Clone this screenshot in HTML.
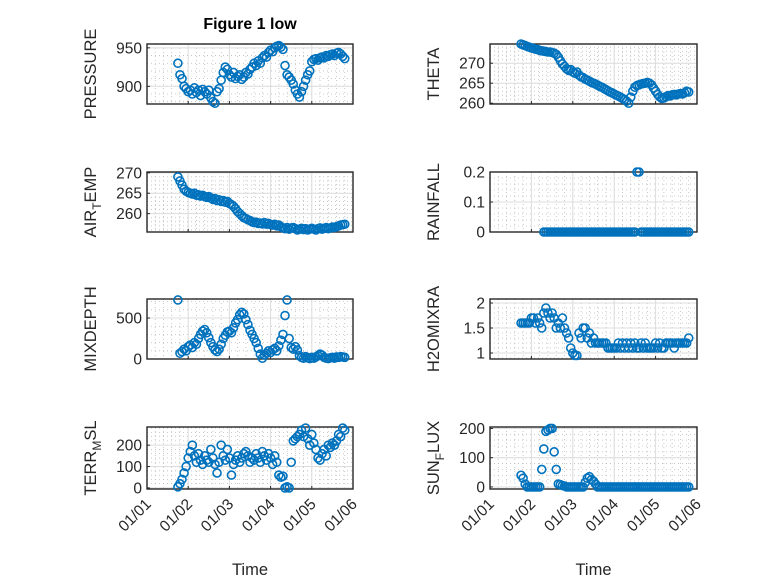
<!DOCTYPE html>
<html><head><meta charset="utf-8"><style>
html,body{margin:0;padding:0;background:#fff;}
svg{display:block;font-family:"Liberation Sans",sans-serif;}
</style></head><body>
<svg id="fig" width="778" height="583" viewBox="0 0 778 583">
<rect width="778" height="583" fill="#fff"/>
<text x="250" y="29" text-anchor="middle" font-weight="bold" font-size="16" fill="#000">Figure 1 low</text>
</svg>
<script>
const days = [];
for (let k = 0; k < 82; k++) days.push(+(0.75 + 0.05 * k).toFixed(2));
const xTickLabels = ["01/01","01/02","01/03","01/04","01/05","01/06"];
const pressure = [930,915,910,900,897,893,895,890,898,892,895,888,896,893,890,895,885,880,878,893,897,908,918,925,922,915,912,918,910,913,915,909,912,918,916,922,925,930,927,933,930,937,940,938,944,947,945,950,952,953,951,948,927,915,912,908,903,895,890,886,893,900,908,915,920,932,935,936,934,937,938,937,940,939,941,942,940,943,944,942,939,936];
const theta = [274.8,274.6,274.4,274.2,274.0,273.8,273.7,273.5,273.4,273.2,273.1,273.0,272.9,272.8,272.8,272.7,272.5,272.2,271.5,270.6,269.8,269.2,268.6,268.2,268.4,267.8,267.5,267.8,267.0,266.6,266.4,266.0,265.8,265.5,265.2,265.0,264.8,264.5,264.2,264.0,263.7,263.4,263.1,262.8,262.6,262.3,262.0,261.8,261.5,261.2,260.9,260.5,260.0,261.5,263.0,264.0,264.4,264.6,264.8,264.9,265.0,265.2,265.0,264.6,263.8,263.0,262.2,261.6,261.2,261.3,261.6,261.9,261.8,262.1,262.2,262.1,262.3,262.4,262.3,262.6,263.0,262.8];
const airTemp = [269,268,267,266,265.5,265.2,265,264.8,265,264.5,264.6,264.3,264.5,264.2,264.0,264.2,263.8,263.5,263.7,263.2,263.4,263.0,263.2,262.8,263.0,262.5,262.2,261.8,261.2,260.5,260.0,259.5,259.0,258.8,258.5,258.3,258.0,257.8,257.9,257.6,257.7,257.5,257.8,257.4,257.6,257.3,257.2,257.4,257.0,257.2,256.8,256.5,256.3,256.6,256.2,256.5,256.6,256.3,256.0,256.2,256.4,256.1,256.3,256.0,256.2,256.4,256.2,256.0,256.3,256.5,256.2,256.4,256.6,256.3,256.5,256.7,256.6,256.8,257.0,257.2,257.3,257.4];
const rainfall = [null,null,null,null,null,null,null,null,null,null,null,0,0,0,0,0,0,0,0,0,0,0,0,0,0,0,0,0,0,0,0,0,0,0,0,0,0,0,0,0,0,0,0,0,0,0,0,0,0,0,0,0,0,0,0,0,0.2,0.2,0,0,0,0,0,0,0,0,0,0,0,0,0,0,0,0,0,0,0,0,0,0,0,0];
const mixDepth = [720,70,90,120,100,150,170,140,200,180,250,300,340,360,320,260,200,150,110,90,120,180,250,290,330,340,320,380,440,480,540,570,550,480,420,350,300,250,200,130,60,10,50,70,100,80,110,130,100,160,230,300,530,720,250,140,120,150,110,40,20,10,30,15,5,20,10,25,40,60,45,20,10,5,15,20,10,25,20,30,25,20];
const h2oMixRa = [1.6,1.6,1.6,1.6,1.6,1.7,1.7,1.6,1.7,1.6,1.5,1.8,1.9,1.8,1.7,1.8,1.7,1.5,1.6,1.5,1.7,1.5,1.4,1.3,1.1,1.0,0.95,0.95,1.4,1.3,1.5,1.5,1.3,1.4,1.2,1.3,1.2,1.2,1.2,1.2,1.2,1.2,1.1,1.1,1.1,1.1,1.1,1.2,1.1,1.2,1.1,1.2,1.1,1.2,1.1,1.2,1.1,1.1,1.2,1.1,1.2,1.1,1.1,1.1,1.1,1.2,1.1,1.2,1.1,1.1,1.2,1.2,1.2,1.2,1.1,1.2,1.2,1.2,1.2,1.2,1.2,1.3];
const terrMsl = [5,20,40,70,100,140,170,200,150,120,160,130,110,150,130,120,180,140,110,70,120,200,150,130,180,140,60,110,130,150,120,140,160,170,150,120,140,130,160,140,120,170,150,130,160,140,110,150,120,60,50,55,0,5,0,120,220,230,240,250,270,240,280,230,200,250,210,180,140,130,160,180,150,200,190,210,200,220,250,240,280,270];
const sunFlux = [40,30,10,0,0,0,0,0,0,0,60,130,190,195,200,200,120,60,10,8,5,3,0,0,0,0,0,0,0,0,0,15,30,35,25,20,10,0,0,0,0,0,0,0,0,0,0,0,0,0,0,0,0,0,0,0,0,0,0,0,0,0,0,0,0,0,0,0,0,0,0,0,0,0,0,0,0,0,0,0,0,0];

const NS = "http://www.w3.org/2000/svg";
const svg = document.getElementById("fig");
function mk(tag, attrs, parent) {
  const e = document.createElementNS(NS, tag);
  for (const k in attrs) e.setAttribute(k, attrs[k]);
  (parent || svg).appendChild(e);
  return e;
}
const panels = [
  {id:"pressure", data:pressure, x0:147, w:206, y0:44, h:60, ymin:877, ymax:955, ticks:[900,950], label:["PRESSURE"]},
  {id:"theta", data:theta, x0:490, w:207, y0:44, h:60, ymin:259.8, ymax:274.8, ticks:[260,265,270], label:["THETA"]},
  {id:"air-temp", data:airTemp, x0:147, w:206, y0:172, h:60, ymin:255.5, ymax:270.2, ticks:[260,265,270], label:["AIR","T","EMP"]},
  {id:"rainfall", data:rainfall, x0:490, w:207, y0:172, h:60, ymin:0, ymax:0.2, ticks:[0,0.1,0.2], label:["RAINFALL"]},
  {id:"mixdepth", data:mixDepth, x0:147, w:206, y0:299, h:60, ymin:0, ymax:732, ticks:[0,500], label:["MIXDEPTH"]},
  {id:"h2omixra", data:h2oMixRa, x0:490, w:207, y0:299, h:60, ymin:0.88, ymax:2.08, ticks:[1,1.5,2], label:["H2OMIXRA"]},
  {id:"terr-msl", data:terrMsl, x0:147, w:206, y0:427, h:62, ymin:-5, ymax:285, ticks:[0,100,200], label:["TERR","M","SL"], bottom:true},
  {id:"sun-flux", data:sunFlux, x0:490, w:207, y0:427, h:62, ymin:-7, ymax:205, ticks:[0,100,200], label:["SUN","F","LUX"], bottom:true}
];
panels.forEach(p => {
  const g = mk("g", {});
  
  
  const xs = d => p.x0 + d / 5 * p.w;
  const ys = v => p.y0 + p.h - (v - p.ymin) / (p.ymax - p.ymin) * p.h;
  for (let i = 0; i < 25; i++) {
    if (i % 5 === 0) continue;
    const x = xs(i / 5);
    mk("line", {x1:x, x2:x, y1:p.y0, y2:p.y0 + p.h, stroke:"#bbb", "stroke-width":0.8, "stroke-dasharray":"1,3"}, g);
  }
  const step = p.ticks[1] - p.ticks[0];
  for (let v = p.ticks[0] - step; v <= p.ymax; v += step / 5) {
    if (v < p.ymin) continue;
    const y = ys(v);
    mk("line", {x1:p.x0, x2:p.x0 + p.w, y1:y, y2:y, stroke:"#bbb", "stroke-width":0.8, "stroke-dasharray":"1,3"}, g);
  }
  for (let i = 1; i < 5; i++) {
    const x = xs(i);
    mk("line", {x1:x, x2:x, y1:p.y0, y2:p.y0 + p.h, stroke:"#dcdcdc", "stroke-width":1}, g);
  }
  p.ticks.forEach(v => {
    const y = ys(v);
    mk("line", {x1:p.x0, x2:p.x0 + p.w, y1:y, y2:y, stroke:"#dcdcdc", "stroke-width":1}, g);
    mk("line", {x1:p.x0, x2:p.x0 + 3, y1:y, y2:y, stroke:"#262626", "stroke-width":1}, g);
    const t = mk("text", {x:p.x0 - 5, y:y + 5.5, "text-anchor":"end", "font-size":15.5, fill:"#262626"}, g);
    t.textContent = String(v);
    
    
  });
  for (let i = 0; i <= 5; i++) {
    const x = xs(i);
    mk("line", {x1:x, x2:x, y1:p.y0 + p.h, y2:p.y0 + p.h - 3, stroke:"#262626", "stroke-width":1}, g);
    if (p.bottom) {
      const yb = p.y0 + p.h + 12;
      const t = mk("text", {x:x + 5, y:yb + 4, "text-anchor":"end", "font-size":15.5, fill:"#262626", transform:"rotate(-45 " + (x + 5) + " " + (yb + 4) + ")"}, g);
      t.textContent = xTickLabels[i];
      
      
    }
  }
  mk("rect", {x:p.x0, y:p.y0, width:p.w, height:p.h, fill:"none", stroke:"#262626", "stroke-width":1.4}, g);
  const lx = p.x0 - 51, ly = p.y0 + p.h / 2;
  const lab = mk("text", {x:lx, y:ly, "text-anchor":"middle", "font-size":16.5, fill:"#262626", transform:"rotate(-90 " + lx + " " + ly + ")"}, g);
  
  
  if (p.label.length === 1) lab.textContent = p.label[0];
  else {
    const a = mk("tspan", {}, lab); a.textContent = p.label[0];
    const b = mk("tspan", {dy:5, "font-size":12}, lab); b.textContent = p.label[1];
    const c = mk("tspan", {dy:-5}, lab); c.textContent = p.label[2];
  }
  if (p.bottom) {
    const t = mk("text", {x:p.x0 + p.w / 2, y:575, "text-anchor":"middle", "font-size":16.5, fill:"#262626"}, g);
    t.textContent = "Time";
    
    
  }
  const n = Math.min(days.length, p.data.length);
  for (let k = 0; k < n; k++) {
    const v = p.data[k];
    if (v === null || v === undefined) continue;
    const c = mk("circle", {cx:xs(days[k]), cy:ys(v), r:4, fill:"none", stroke:"#0072BD", "stroke-width":1.6}, g);
    
    
  }
});
</script>
</body></html>
